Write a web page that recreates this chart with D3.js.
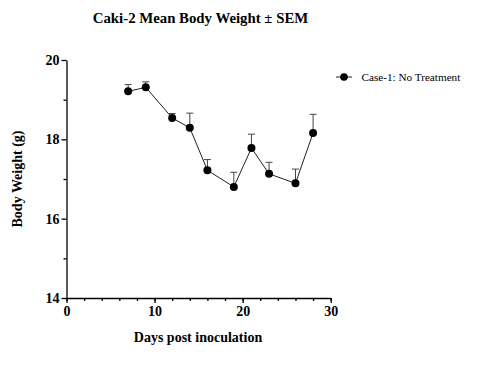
<!DOCTYPE html>
<html>
<head>
<meta charset="utf-8">
<script src="https://cdn.jsdelivr.net/npm/d3@7"></script>
<style>
  body { margin: 0; background: #fff; }
  text { font-family: "Liberation Serif", "Times New Roman", serif; }
</style>
</head>
<body>
<div id="chart"></div>
<script>
// data
const days = [7, 9, 12, 14, 16, 19, 21, 23, 26, 28];
const meanWeight = [19.21, 19.31, 18.54, 18.29, 17.22, 16.80, 17.78, 17.13, 16.89, 18.16];
const sem = [0.17, 0.14, 0.11, 0.37, 0.27, 0.37, 0.35, 0.29, 0.36, 0.47];
const xTicks = [0, 10, 20, 30];
const yTicks = [14, 16, 18, 20];
const seriesName = "Case-1: No Treatment";

const W = 477, H = 371;
const margin = {top: 60, left: 66.5, right: 146.3, bottom: 73};
const width = W - margin.left - margin.right,
  height = H - margin.top - margin.bottom;

const svg = d3.select("#chart").append("svg")
  .attr("width", W)
  .attr("height", H);

const g = svg.append("g")
  .attr("transform", `translate(${margin.left},${margin.top})`);

let x = d3.scaleLinear().domain([0, 30]).range([0, width]);
let y = d3.scaleLinear().domain([14, 20]).range([height, 0]);

// minor ticks first, then major with labels
g.append("g")
  .attr("transform", `translate(0,${height})`)
  .call(d3.axisBottom(x).tickValues(d3.range(0, 31, 2)).tickSize(3).tickFormat(""))
  .call(a => a.select(".domain").remove());
g.append("g")
  .call(d3.axisLeft(y).tickValues(d3.range(15, 20, 2)).tickSize(3).tickFormat(""))
  .call(a => a.select(".domain").remove());

g.append("g")
  .attr("transform", `translate(0,${height})`)
  .call(d3.axisBottom(x).tickValues(xTicks).tickFormat(d3.format("d"))
    .tickSize(5).tickSizeOuter(0).tickPadding(3));
g.append("g")
  .call(d3.axisLeft(y).tickValues(yTicks).tickFormat(d3.format("d"))
    .tickSize(5).tickSizeOuter(0).tickPadding(2));

svg.selectAll(".tick text")
  .style("font-family", "'Liberation Serif', serif")
  .style("font-weight", "bold")
  .style("font-size", "14px")
  .attr("fill", "#000");
svg.selectAll(".domain, .tick line").attr("stroke", "#000").attr("stroke-width", 1.3);

// error bars (upper only)
const pts = days.map((d, i) => ({day: d, w: meanWeight[i], e: sem[i]}));
g.selectAll(".err").data(pts).enter().append("path")
  .attr("class", "err")
  .attr("fill", "none")
  .attr("stroke", "#444")
  .attr("stroke-width", 1)
  .attr("d", d => {
    const cx = x(d.day), y0 = y(d.w), y1 = y(d.w + d.e);
    return `M${cx},${y0}V${y1}M${cx - 3.5},${y1}H${cx + 3.5}`;
  });

g.append("path")
  .datum(pts)
  .attr("fill", "none")
  .attr("stroke", "#222")
  .attr("stroke-width", 1)
  .attr("d", d3.line().x(d => x(d.day)).y(d => y(d.w)));

g.selectAll(".dot").data(pts).enter().append("circle")
  .attr("class", "dot")
  .attr("cx", d => x(d.day))
  .attr("cy", d => y(d.w))
  .attr("r", 4)
  .attr("fill", "#000");

// title & labels
svg.append("text")
  .attr("x", 200.5).attr("y", 23)
  .attr("text-anchor", "middle")
  .attr("font-weight", "bold")
  .attr("font-size", 14.8)
  .text("Caki-2 Mean Body Weight \u00b1 SEM");

svg.append("text")
  .attr("x", 198).attr("y", 342)
  .attr("text-anchor", "middle")
  .attr("font-weight", "bold")
  .attr("font-size", 14)
  .text("Days post inoculation");

svg.append("text")
  .attr("transform", "translate(22,179) rotate(-90)")
  .attr("text-anchor", "middle")
  .attr("font-weight", "bold")
  .attr("font-size", 14)
  .text("Body Weight (g)");

// legend
const lg = svg.append("g").attr("transform", "translate(344,77)");
lg.append("line").attr("x1", -8).attr("x2", 8).attr("stroke", "#222").attr("stroke-width", 1);
lg.append("circle").attr("r", 3.8).attr("fill", "#000");
lg.append("text").attr("x", 17.5).attr("y", 4)
  .attr("font-size", 11.2)
  .text(seriesName);
</script>
</body>
</html>
